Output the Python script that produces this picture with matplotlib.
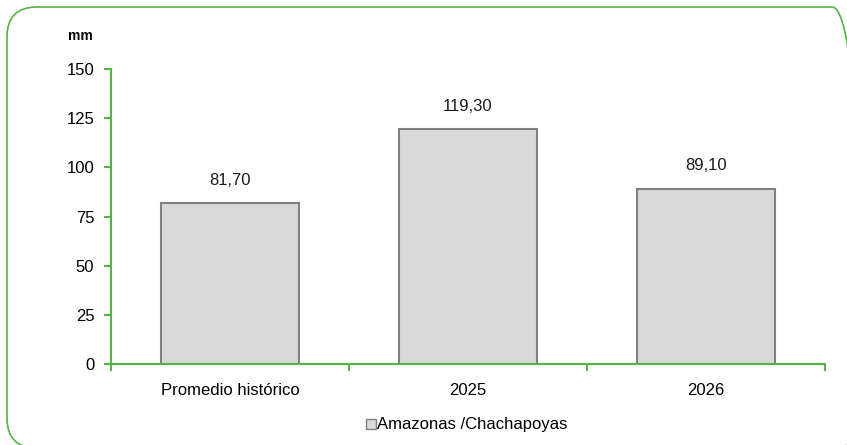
import matplotlib
matplotlib.use("Agg")
import matplotlib.pyplot as plt
from matplotlib.patches import FancyBboxPatch, Patch
from matplotlib.transforms import IdentityTransform

plt.rcParams['font.family'] = ['Liberation Sans', 'DejaVu Sans']

categories = ["Promedio histórico", "2025", "2026"]
values = [81.70, 119.30, 89.10]
series_name = "Amazonas /Chachapoyas"
yticks = [0, 25, 50, 75, 100, 125, 150]

green = "#55B443"
bar_fill = "#D9D9D9"
bar_edge = "#808080"

fig = plt.figure(figsize=(8.47, 4.45), dpi=100)

# rounded green frame (pixel coordinates, origin bottom-left)
frame = FancyBboxPatch((7, -3), 855, 441,
                       boxstyle="round,pad=0,rounding_size=30",
                       transform=IdentityTransform(), facecolor="none",
                       edgecolor=green, linewidth=1.2)
fig.patches.append(frame)

ax = fig.add_axes([111 / 847, 1 - 364 / 445, (825 - 111) / 847, (364 - 69) / 445])

x = range(len(categories))
ax.bar(x, values, width=0.58, color=bar_fill, edgecolor=bar_edge,
       linewidth=1.5, zorder=2)

for i, v in enumerate(values):
    ax.text(i, v + 8, f"{v:.2f}".replace(".", ","), ha="center", va="bottom",
            fontsize=12, color="#1a1a1a")

ax.set_xlim(-0.5, len(categories) - 0.5)
ax.set_ylim(0, 150)
ax.set_yticks(yticks)
ax.set_yticklabels([str(t) for t in yticks], fontsize=12)
ax.set_xticks([i - 0.5 for i in range(len(categories) + 1)])
ax.set_xticklabels([])
ax.set_xticks(list(x), minor=True)
ax.set_xticklabels(categories, minor=True, fontsize=12)
ax.tick_params(axis="x", which="minor", length=0, pad=14)
ax.tick_params(axis="x", which="major", length=5, color=green, width=1.5)
ax.tick_params(axis="y", length=5, color=green, width=1.5, pad=7)

for s in ["top", "right"]:
    ax.spines[s].set_visible(False)
for s in ["left", "bottom"]:
    ax.spines[s].set_color(green)
    ax.spines[s].set_linewidth(1.5)
    ax.spines[s].set_zorder(3)

fig.text(68 / 847, 1 - 36 / 445, "mm", fontsize=10, fontweight="bold",
         ha="left", va="center")

handle = Patch(facecolor=bar_fill, edgecolor=bar_edge, linewidth=1)
fig.legend([handle], [series_name], loc="center", bbox_to_anchor=(467 / 847, 1 - 425 / 445),
           frameon=False, fontsize=12, handlelength=0.55, handleheight=0.55,
           handletextpad=0.1)

fig.savefig("out.png", dpi=100)
